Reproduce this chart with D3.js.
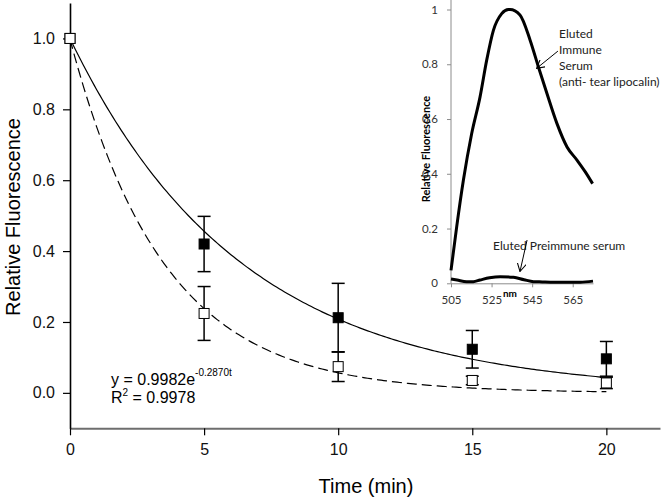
<!DOCTYPE html>
<html>
<head>
<meta charset="utf-8">
<script src="https://cdn.jsdelivr.net/npm/d3@7"></script>
<style>
  body { margin: 0; background: #fff; }
  svg { display: block; font-family: "Liberation Sans", Arial, sans-serif; }
  .inset text { font-family: Lato, "Open Sans", sans-serif; }
</style>
</head>
<body>
<svg id="chart" width="664" height="499"></svg>
<script>
// main data: relative fluorescence over time
var times = [0, 5, 10, 15, 20];
var immuneMean = [1.0, 0.42, 0.212, 0.123, 0.096];
var immuneErr = [0, 0.078, 0.097, 0.053, 0.049];
var preMean = [1.0, 0.224, 0.074, 0.035, 0.028];
var preErr = [0, 0.076, 0.042, 0.012, 0.016];

// exponential fits  y = a * e^(-k t)
var fitImmune = [1.0, 0.157];
var fitPre = [0.9982, 0.2870];

var yTicks = [0, 0.2, 0.4, 0.6, 0.8, 1.0];
var xTicks = [0, 5, 10, 15, 20];

// inset spectra
var nm = [505, 507.8, 511.1, 515.2, 519.3, 522.6, 525.9, 530, 533.3, 534.1, 539, 544, 548.1, 552.3, 557.2, 562.2, 567.1, 571.2, 574.8];
var immuneSpec = [0.047, 0.206, 0.376, 0.547, 0.68, 0.815, 0.924, 0.985, 1.0, 1.0, 0.98, 0.888, 0.79, 0.693, 0.584, 0.498, 0.45, 0.407, 0.364];
var nmPre = [505, 508, 512.7, 516, 519.3, 524, 529.2, 535.8, 541, 545.7, 550, 554, 560, 568.7, 575];
var preSpec = [0.016, 0.012, 0.006, 0.006, 0.012, 0.02, 0.024, 0.022, 0.013, 0.006, 0.005, 0.004, 0.004, 0.004, 0.008];
var insetXTicks = [505, 525, 545, 565];
var insetYTicks = [0, 0.2, 0.4, 0.6, 0.8, 1];

var svg = d3.select("#chart");

var x = d3.scaleLinear().domain([0, 22]).range([70, 660]);
var y = d3.scaleLinear().domain([-0.1, 1.1]).range([428.3, 3]);

// axes
var xAxis = svg.append("g")
    .attr("transform", "translate(0," + y(-0.1) + ")")
    .call(d3.axisBottom(x).tickValues(xTicks).tickSize(7).tickPadding(8).tickSizeOuter(0));
xAxis.select(".domain").attr("stroke", "#6e6e6e").attr("stroke-width", 2);
xAxis.selectAll(".tick line").attr("stroke", "#000").attr("stroke-width", 1.2);
xAxis.selectAll("text").attr("font-size", 16).attr("fill", "#111")
    .attr("font-family", "Liberation Sans, Arial, sans-serif");

var yAxis = svg.append("g")
    .attr("transform", "translate(" + x(0) + ",0)")
    .call(d3.axisLeft(y).tickValues(yTicks).tickFormat(d3.format(".1f")).tickSize(7).tickPadding(8).tickSizeOuter(0));
yAxis.select(".domain").attr("stroke", "#000").attr("stroke-width", 1.6);
yAxis.selectAll(".tick line").attr("stroke", "#000").attr("stroke-width", 1.2);
yAxis.selectAll("text").attr("font-size", 16).attr("fill", "#111")
    .attr("font-family", "Liberation Sans, Arial, sans-serif");

svg.append("text")
    .attr("transform", "translate(20,217) rotate(-90)")
    .attr("text-anchor", "middle")
    .attr("font-size", 20)
    .text("Relative Fluorescence");

svg.append("text")
    .attr("x", 366).attr("y", 493)
    .attr("text-anchor", "middle")
    .attr("font-size", 20)
    .text("Time (min)");

// fit curves
var tGrid = d3.range(0, 20.001, 0.1);
var line = d3.line()
    .x(function (d) { return x(d.t); })
    .y(function (d) { return y(d.v); });

svg.append("path")
    .datum(tGrid.map(function (t) { return {t: t, v: fitImmune[0] * Math.exp(-fitImmune[1] * t)}; }))
    .attr("fill", "none").attr("stroke", "#000").attr("stroke-width", 1.2)
    .attr("d", line);
svg.append("path")
    .datum(tGrid.map(function (t) { return {t: t, v: fitPre[0] * Math.exp(-fitPre[1] * t)}; }))
    .attr("fill", "none").attr("stroke", "#000").attr("stroke-width", 1.2)
    .attr("stroke-dasharray", "10,5")
    .attr("d", line);

// error bars + markers
function drawSeries(mean, err, fill) {
    var g = svg.append("g");
    times.forEach(function (t, i) {
        if (err[i] > 0) {
            var top = y(mean[i] + err[i]), bot = y(mean[i] - err[i]), cx = x(t);
            g.append("line").attr("x1", cx).attr("x2", cx).attr("y1", top).attr("y2", bot)
                .attr("stroke", "#000").attr("stroke-width", 1.5);
            [top, bot].forEach(function (yy) {
                g.append("line").attr("x1", cx - 6.5).attr("x2", cx + 6.5).attr("y1", yy).attr("y2", yy)
                    .attr("stroke", "#000").attr("stroke-width", 1.5);
            });
        }
    });
    g.selectAll("rect").data(times).enter().append("rect")
        .attr("x", function (d) { return x(d) - 5; })
        .attr("y", function (d, i) { return y(mean[i]) - 5; })
        .attr("width", 10).attr("height", 10)
        .attr("fill", fill).attr("stroke", "#000").attr("stroke-width", 1);
}
drawSeries(immuneMean, immuneErr, "#000");
drawSeries(preMean, preErr, "#fff");

// equation
var eq = svg.append("text").attr("x", 111).attr("y", 385).attr("font-size", 16);
eq.append("tspan").text("y = 0.9982e");
eq.append("tspan").attr("dy", -9).attr("font-size", 10).text("-0.2870t");
var r2 = svg.append("text").attr("x", 111).attr("y", 403).attr("font-size", 16);
r2.append("tspan").text("R");
r2.append("tspan").attr("dy", -7).attr("font-size", 10).text("2");
r2.append("tspan").attr("dy", 7).text(" = 0.9978");

// inset
var ix = d3.scaleLinear().domain([505, 575]).range([451, 593]);
var iy = d3.scaleLinear().domain([0, 1]).range([283.3, 9.5]);
var inset = svg.append("g").attr("class", "inset");

var ixAxis = inset.append("g")
    .attr("transform", "translate(0," + iy(0) + ")")
    .call(d3.axisBottom(ix).tickValues(insetXTicks).tickSize(4).tickPadding(9).tickSizeOuter(0));
var iyAxis = inset.append("g")
    .attr("transform", "translate(" + ix(505) + ",0)")
    .call(d3.axisLeft(iy).tickValues(insetYTicks).tickFormat(d3.format("~g")).tickSize(4).tickPadding(9).tickSizeOuter(0));
iyAxis.select(".domain").attr("d", "M0,0V" + iy(0));
[ixAxis, iyAxis].forEach(function (a) {
    a.select(".domain").attr("stroke", "#8c8c8c");
    a.selectAll(".tick line").attr("stroke", "#8c8c8c");
    a.selectAll("text").attr("font-size", 11.5).attr("fill", "#333")
        .attr("font-family", "Lato, sans-serif");
});

inset.append("text")
    .attr("transform", "translate(430,149) rotate(-90)")
    .attr("text-anchor", "middle")
    .attr("font-size", 11).attr("font-weight", "bold")
    .text("Relative Fluorescence");
inset.append("text")
    .attr("x", 510).attr("y", 297)
    .attr("text-anchor", "middle")
    .attr("font-size", 10).attr("font-weight", "bold")
    .text("nm");

var iline = d3.line()
    .x(function (d) { return ix(d[0]); })
    .y(function (d) { return iy(d[1]); })
    .curve(d3.curveMonotoneX);
inset.append("path")
    .datum(d3.zip(nm, immuneSpec))
    .attr("fill", "none").attr("stroke", "#000").attr("stroke-width", 3)
    .attr("stroke-linejoin", "round")
    .attr("d", iline);
inset.append("path")
    .datum(d3.zip(nmPre, preSpec))
    .attr("fill", "none").attr("stroke", "#000").attr("stroke-width", 3)
    .attr("stroke-linejoin", "round")
    .attr("d", iline);

// annotations
var labelLines = ["Eluted", "Immune", "Serum", "(anti- tear lipocalin)"];
var lab = inset.append("text").attr("x", 559).attr("y", 38).attr("font-size", 12).attr("fill", "#222");
labelLines.forEach(function (s, i) {
    lab.append("tspan").attr("x", 559).attr("dy", i === 0 ? 0 : 16).text(s);
});
inset.append("text").attr("x", 493).attr("y", 250).attr("font-size", 12).attr("fill", "#222")
    .text("Eluted Preimmune serum");

svg.append("defs").append("marker")
    .attr("id", "arr").attr("viewBox", "0 0 10 10")
    .attr("refX", 9).attr("refY", 5)
    .attr("markerWidth", 9).attr("markerHeight", 9)
    .attr("markerUnits", "userSpaceOnUse")
    .attr("orient", "auto")
    .append("path").attr("d", "M0,0L9,5L0,10")
    .attr("fill", "none").attr("stroke", "#000").attr("stroke-width", 1.2);

var arrows = [
    [[557.7, 0.848], [547.2, 0.785]],
    [[542.5, 0.158], [539.0, 0.043]]
];
arrows.forEach(function (a) {
    inset.append("line")
        .attr("x1", ix(a[0][0])).attr("y1", iy(a[0][1]))
        .attr("x2", ix(a[1][0])).attr("y2", iy(a[1][1]))
        .attr("stroke", "#000").attr("stroke-width", 1)
        .attr("marker-end", "url(#arr)");
});
</script>
</body>
</html>
